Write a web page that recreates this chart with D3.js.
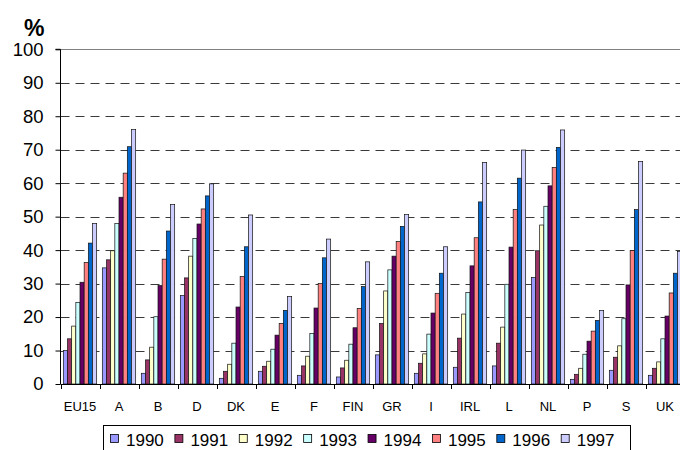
<!DOCTYPE html>
<html>
<head>
<meta charset="utf-8">
<script src="https://cdn.jsdelivr.net/npm/d3@7"></script>
<style>
  html, body { margin: 0; padding: 0; background: #fff; }
  svg { display: block; font-family: "Liberation Sans", Arial, sans-serif; }
</style>
</head>
<body>
<svg id="chart" width="680" height="450"></svg>
<script>
const categories = ["EU15","A","B","D","DK","E","F","FIN","GR","I","IRL","L","NL","P","S","UK"];
const years = ["1990","1991","1992","1993","1994","1995","1996","1997"];
const yTicks = [0,10,20,30,40,50,60,70,80,90,100];
const colors = ["#9999FF","#993366","#FFFFCC","#CCFFFF","#660066","#FF8080","#0066CC","#CCCCFF"];

const v1990 = [10.0, 34.7, 3.2, 26.4, 1.7, 3.8, 2.6, 2.1, 8.7, 3.2, 5.0, 5.4, 31.8, 1.4, 4.1, 2.6];
const v1991 = [13.5, 37.1, 7.2, 31.7, 3.8, 5.3, 5.4, 4.8, 18.1, 6.2, 13.7, 12.2, 39.8, 2.9, 8.0, 4.7];
const v1992 = [17.3, 39.8, 11.0, 38.2, 5.9, 6.8, 8.3, 7.1, 27.8, 9.0, 20.9, 17.0, 47.5, 4.7, 11.4, 6.6];
const v1993 = [24.4, 48.0, 20.1, 43.5, 12.2, 10.4, 15.1, 11.9, 34.1, 14.9, 27.3, 29.8, 53.1, 8.9, 19.5, 13.5];
const v1994 = [30.4, 55.8, 29.4, 47.8, 23.0, 14.6, 22.7, 16.8, 38.2, 21.2, 35.3, 40.9, 59.2, 12.8, 29.6, 20.3];
const v1995 = [36.3, 63.0, 37.3, 52.3, 32.1, 18.1, 30.0, 22.6, 42.6, 27.1, 43.7, 52.1, 64.7, 15.8, 39.9, 27.2];
const v1996 = [42.1, 70.9, 45.7, 56.2, 41.0, 22.0, 37.7, 29.1, 47.1, 33.1, 54.4, 61.5, 70.7, 19.0, 52.1, 33.1];
const v1997 = [48.0, 76.0, 53.6, 59.8, 50.5, 26.1, 43.3, 36.5, 50.6, 41.0, 66.2, 69.9, 75.9, 22.0, 66.5, 39.6];
const seriesValues = [v1990, v1991, v1992, v1993, v1994, v1995, v1996, v1997];

const svg = d3.select("#chart");
const plotLeft = 60.5, plotRight = 684.5, plotTop = 49.3, plotBottom = 384;

const y = d3.scaleLinear().domain([0, 100]).range([plotBottom, plotTop]);
const x0 = d3.scaleBand().domain(categories).range([plotLeft, plotRight]).padding(0);
const x1 = d3.scaleBand().domain(years).range([0, x0.bandwidth()]).paddingInner(0).paddingOuter(0.68);
const color = d3.scaleOrdinal().domain(years).range(colors);

// gridlines
const grid = svg.append("g");
yTicks.filter(t => t > 0).forEach(t => {
  const yy = Math.round(y(t)) + 0.5;
  grid.append("line")
    .attr("x1", plotLeft).attr("x2", 680)
    .attr("y1", yy).attr("y2", yy)
    .attr("stroke", t === 100 ? "#808080" : "#3a3a3a")
    .attr("stroke-width", 1)
    .attr("stroke-dasharray", t === 100 ? null : "9,6");
});

// bars
const data = categories.map((c, i) => ({
  cat: c,
  vals: years.map((yr, j) => ({ year: yr, value: seriesValues[j][i] }))
}));

const groups = svg.append("g").selectAll("g")
  .data(data).join("g")
  .attr("transform", d => `translate(${x0(d.cat)},0)`);

groups.selectAll("rect")
  .data(d => d.vals).join("rect")
  .attr("x", d => x1(d.year))
  .attr("y", d => y(d.value))
  .attr("width", x1.bandwidth())
  .attr("height", d => y(0) - y(d.value))
  .attr("fill", d => color(d.year))
  .attr("stroke", "#111")
  .attr("stroke-width", 0.7);

// y axis
const yAxis = d3.axisLeft(y).tickValues(yTicks).tickSize(5).tickPadding(12).tickFormat(d3.format("d"));
const yg = svg.append("g").attr("transform", `translate(${plotLeft},0)`).call(yAxis);
yg.select(".domain").attr("stroke", "#000").attr("d", `M-5,${plotTop}H0V${plotBottom}`);
yg.selectAll(".tick line").attr("stroke", "#000");
yg.selectAll(".tick text").attr("font-size", 18.5).attr("font-family", "Liberation Sans, Arial, sans-serif").attr("fill", "#000");

// x axis
const xAxis = d3.axisBottom(x0).tickSize(0).tickPadding(0);
const xg = svg.append("g").attr("transform", `translate(0,${plotBottom})`).call(xAxis);
xg.select(".domain").attr("stroke", "#000").attr("d", `M${plotLeft},0.5H${plotRight}`);
xg.selectAll(".tick text").attr("font-size", 13).attr("font-family", "Liberation Sans, Arial, sans-serif")
  .attr("fill", "#000").attr("dy", null).attr("y", 27);
// category boundary ticks
const bounds = categories.map(c => x0(c)).concat([plotRight]);
xg.selectAll("line.bound").data(bounds).join("line").attr("class", "bound")
  .attr("x1", d => Math.round(d) + 0.5).attr("x2", d => Math.round(d) + 0.5)
  .attr("y1", 0).attr("y2", 5).attr("stroke", "#000");

// % label
svg.append("text").attr("x", 24).attr("y", 36)
  .attr("font-size", 23).attr("font-weight", "bold").attr("fill", "#000").text("%");

// legend
const lg = svg.append("g");
lg.append("rect").attr("x", 103.5).attr("y", 425.5).attr("width", 527).attr("height", 40)
  .attr("fill", "#fff").attr("stroke", "#000").attr("stroke-width", 1);
const lx = d3.scalePoint().domain(years).range([110, 560.7]);
const items = lg.selectAll("g.item").data(years).join("g").attr("class", "item")
  .attr("transform", d => `translate(${lx(d)},0)`);
items.append("rect").attr("x", 0.5).attr("y", 434.5).attr("width", 8).attr("height", 8)
  .attr("fill", d => color(d)).attr("stroke", "#000").attr("stroke-width", 0.8);
items.append("text").attr("x", 16).attr("y", 445.5).attr("font-size", 17).attr("fill", "#000").text(d => d);
</script>
</body>
</html>
